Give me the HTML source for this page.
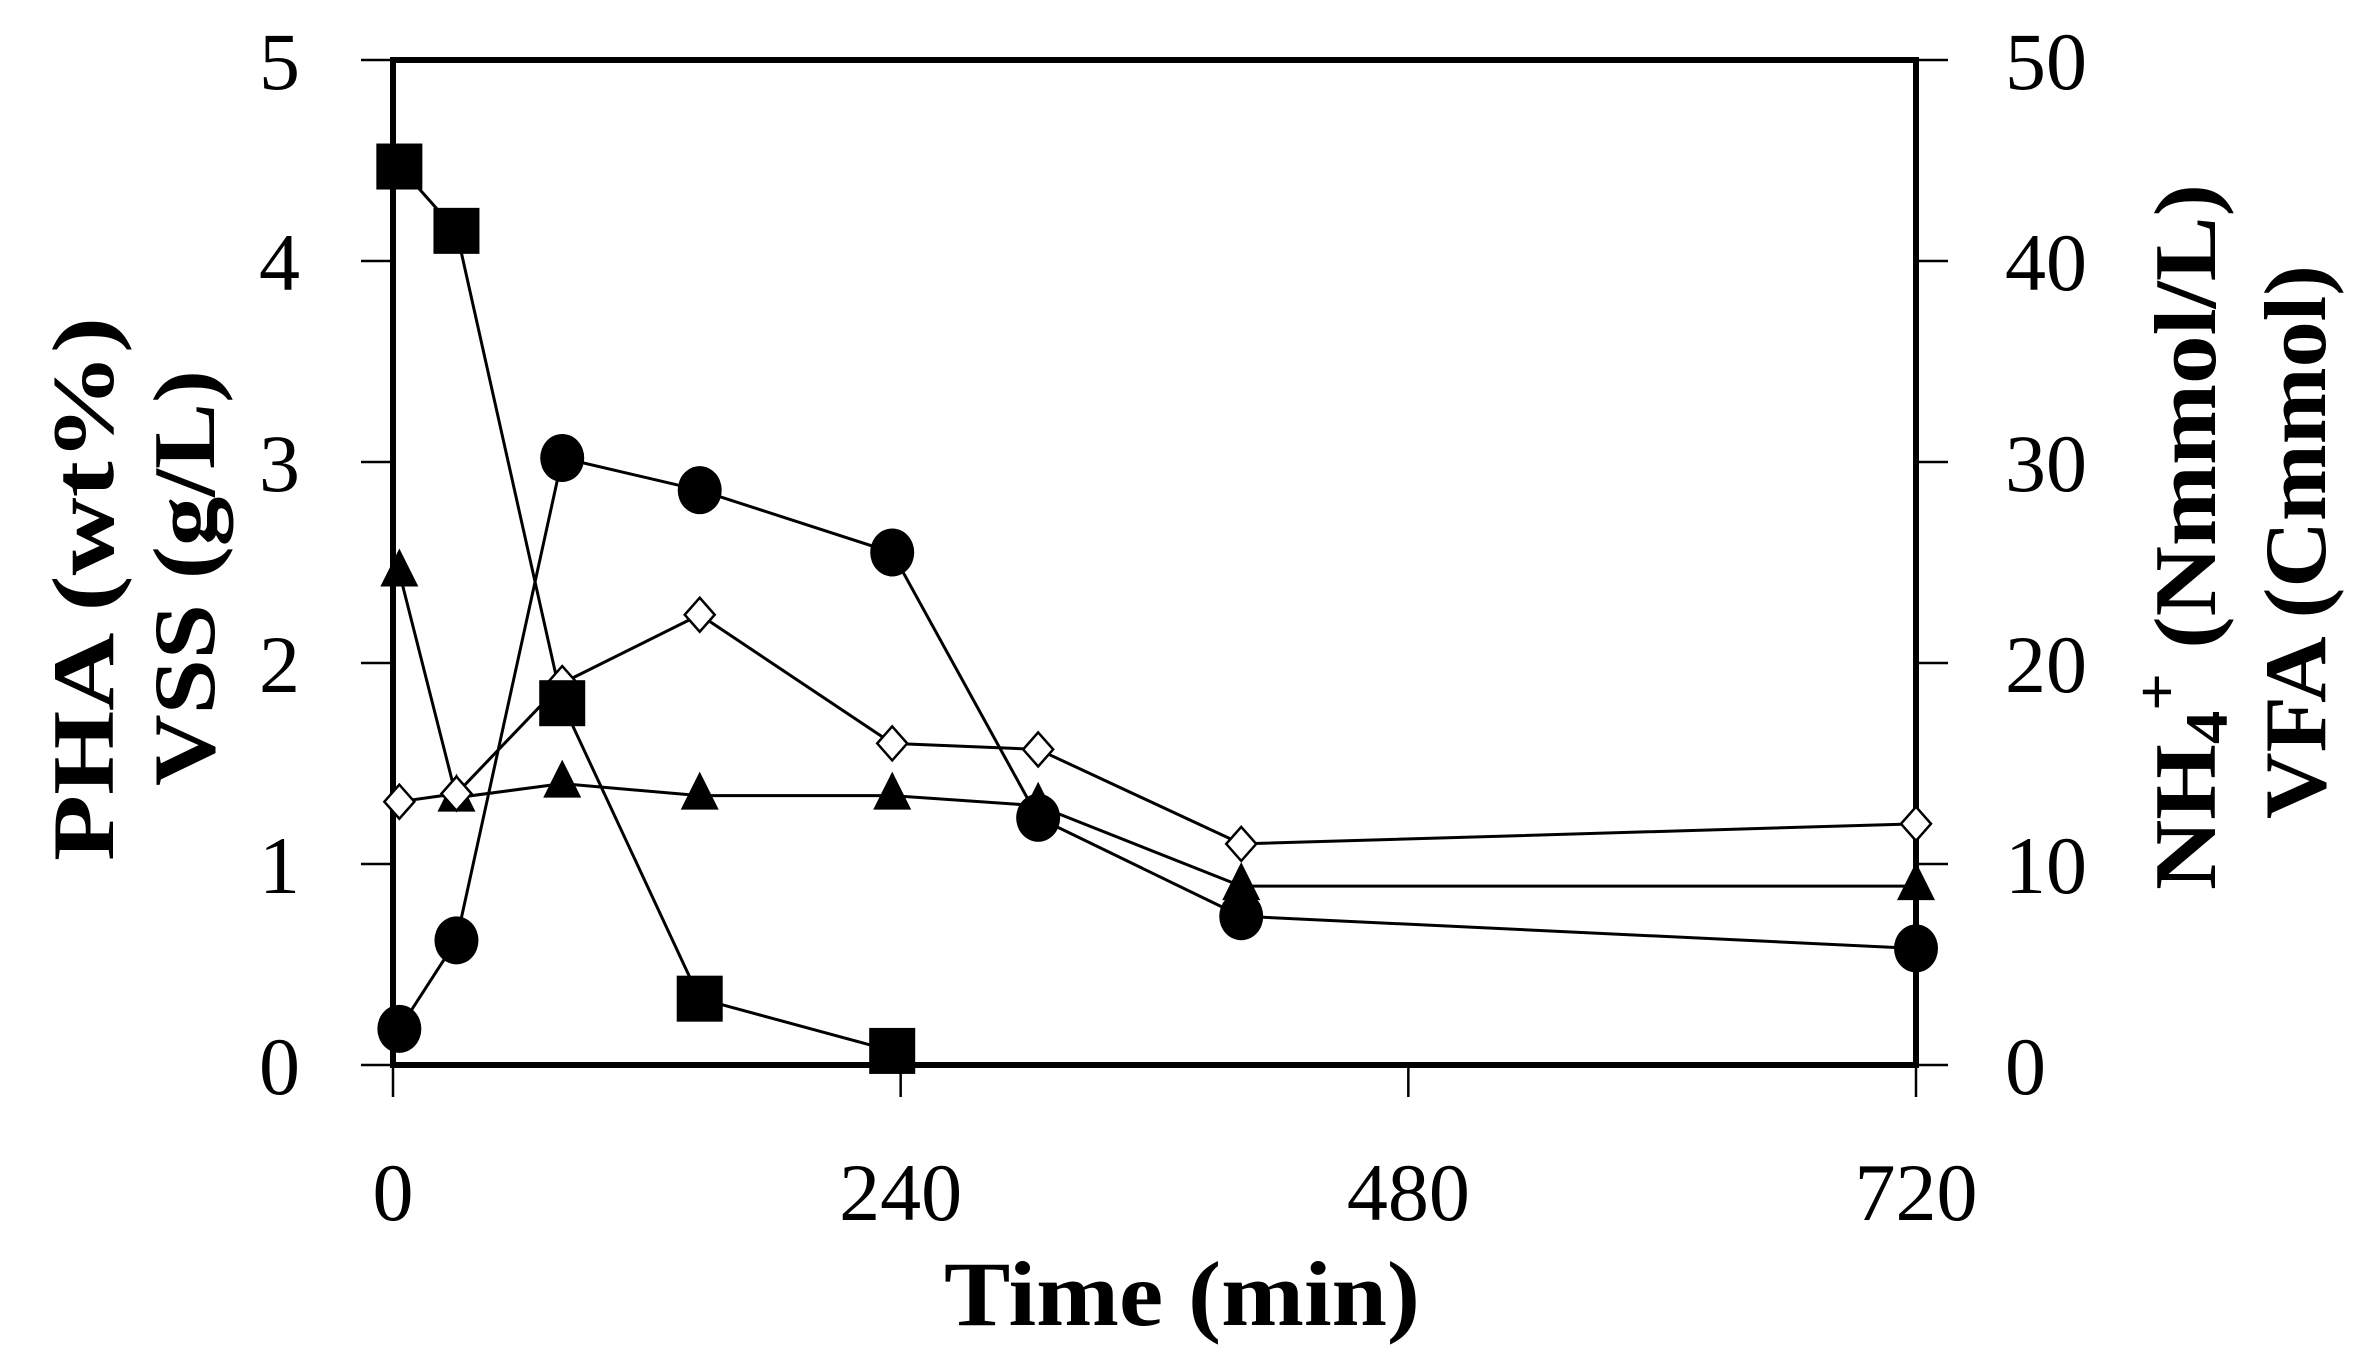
<!DOCTYPE html>
<html><head><meta charset="utf-8"><style>html,body{margin:0;padding:0;background:#fff}svg{display:block}</style></head>
<body>
<svg id="chart" width="2369" height="1367" viewBox="0 0 2369 1367" xmlns="http://www.w3.org/2000/svg" font-family="Liberation Serif, serif">
<g id="axes"></g>
<g id="series"></g>
</svg>
<script>
const xTicks = [0, 240, 480, 720];
const yLeftTicks = [0, 1, 2, 3, 4, 5];
const yRightTicks = [0, 10, 20, 30, 40, 50];
const squareTimes = [3, 30, 80, 145, 236];
const squareValues = [4.47, 4.15, 1.8, 0.33, 0.07];
const circleTimes = [3, 30, 80, 145, 236, 305, 401, 720];
const circleValues = [0.18, 0.62, 3.02, 2.86, 2.55, 1.23, 0.74, 0.58];
const diamondTimes = [3, 30, 80, 145, 236, 305, 401, 720];
const diamondValues = [1.31, 1.35, 1.9, 2.24, 1.6, 1.57, 1.1, 1.2];
const triangleTimes = [3, 30, 80, 145, 236, 305, 401, 720];
const triangleValues = [2.45, 1.33, 1.4, 1.34, 1.34, 1.29, 0.89, 0.89];

const L = 393, R = 1916, T = 60, B = 1065;
const xs = t => L + (t / 720) * (R - L);
const ys = v => B - (v / 5) * (B - T);
const yr = v => B - (v / 50) * (B - T);
const NS = 'http://www.w3.org/2000/svg';
function mk(tag, attrs, parent, text) {
  const e = document.createElementNS(NS, tag);
  for (const k in attrs) e.setAttribute(k, attrs[k]);
  if (text !== undefined) e.textContent = text;
  parent.appendChild(e);
  return e;
}
const axes = document.getElementById('axes');
const series = document.getElementById('series');

let fr = mk('rect', {x: L, y: T, width: R - L, height: B - T, fill: 'none', stroke: '#000', 'stroke-width': 6}, axes);



xTicks.forEach(t => {
  let ln = mk('line', {x1: xs(t), x2: xs(t), y1: B, y2: B + 32, stroke: '#000', 'stroke-width': 2.5}, axes);
  
  
  let tx = mk('text', {x: xs(t), y: B + 155, 'text-anchor': 'middle', 'font-size': 82}, axes, String(t));
  
  
});
yLeftTicks.forEach(v => {
  let ln = mk('line', {x1: L - 32, x2: L, y1: ys(v), y2: ys(v), stroke: '#000', 'stroke-width': 2.5}, axes);
  
  
  let tx = mk('text', {x: 300, y: ys(v) + 29, 'text-anchor': 'end', 'font-size': 82}, axes, String(v));
  
  
});
yRightTicks.forEach(v => {
  let ln = mk('line', {x1: R, x2: R + 32, y1: yr(v), y2: yr(v), stroke: '#000', 'stroke-width': 2.5}, axes);
  
  
  let tx = mk('text', {x: 2005, y: yr(v) + 29, 'text-anchor': 'start', 'font-size': 82}, axes, String(v));
  
  
});

let xt = mk('text', {x: 1182, y: 1325, 'text-anchor': 'middle', 'font-size': 92, 'font-weight': 'bold', textLength: 476, lengthAdjust: 'spacingAndGlyphs'}, axes, 'Time (min)');



function vtitle(x, cy, len, txt, name) {
  let t = mk('text', {x: 0, y: 0, 'text-anchor': 'middle', 'font-size': 88, 'font-weight': 'bold', textLength: len, lengthAdjust: 'spacingAndGlyphs', transform: `translate(${x},${cy}) rotate(-90)`}, axes);
  t.innerHTML = txt;
  
  
}
vtitle(113, 589, 544, 'PHA (wt%)', 'y-left-title-pha');
vtitle(214, 578, 416, 'VSS (g/L)', 'y-left-title-vss');
vtitle(2215, 537, 706, 'NH<tspan font-size="60" dy="12">4</tspan><tspan font-size="60" dy="-50">+</tspan><tspan dy="38"> (Nmmol/L)</tspan>', 'y-right-title-nh4');
vtitle(2325, 542, 554, 'VFA (Cmmol)', 'y-right-title-vfa');

function line(times, vals, name) {
  const pts = times.map((t, i) => xs(t) + ',' + ys(vals[i])).join(' ');
  let p = mk('polyline', {points: pts, fill: 'none', stroke: '#000', 'stroke-width': 3}, series);
  
  
}
line(diamondTimes, diamondValues, 'vfa-line');
line(triangleTimes, triangleValues, 'nh4-line');
line(squareTimes, squareValues, 'pha-line');
line(circleTimes, circleValues, 'vss-line');

triangleTimes.forEach((t, i) => {
  const x = xs(t), y = ys(triangleValues[i]);
  let m = mk('polygon', {points: `${x},${y - 24} ${x - 19},${y + 14} ${x + 19},${y + 14}`, fill: '#000'}, series);
  
  
});
diamondTimes.forEach((t, i) => {
  const x = xs(t), y = ys(diamondValues[i]);
  let m = mk('polygon', {points: `${x},${y - 17} ${x + 15},${y} ${x},${y + 17} ${x - 15},${y}`, fill: '#fff', stroke: '#000', 'stroke-width': 2.5}, series);
  
  
});
squareTimes.forEach((t, i) => {
  const x = xs(t), y = ys(squareValues[i]);
  let m = mk('rect', {x: x - 23, y: y - 23, width: 46, height: 46, fill: '#000'}, series);
  
  
});
circleTimes.forEach((t, i) => {
  const x = xs(t), y = ys(circleValues[i]);
  let m = mk('ellipse', {cx: x, cy: y, rx: 22, ry: 24, fill: '#000'}, series);
  
  
});
</script>
</body></html>
